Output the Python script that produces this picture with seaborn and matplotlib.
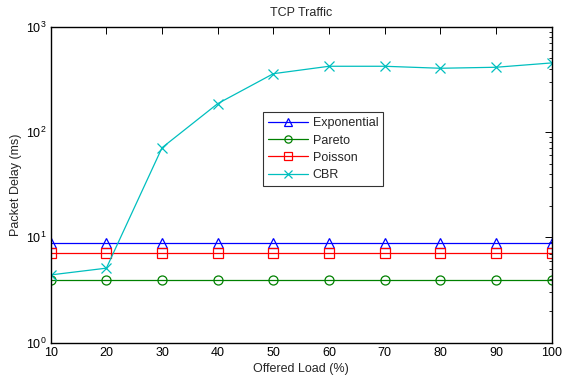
import matplotlib
matplotlib.use("Agg")
import matplotlib.pyplot as plt
import seaborn as sns
import pandas as pd
from matplotlib.ticker import LogLocator, FixedLocator

offered_load = [10, 20, 30, 40, 50, 60, 70, 80, 90, 100]
exponential = [8.8] * 10
pareto = [3.95] * 10
poisson = [7.1] * 10
cbr = [4.4, 5.1, 71, 186, 358, 421, 421, 403, 412, 453]

series_names = ["Exponential", "Pareto", "Poisson", "CBR"]
series_values = [exponential, pareto, poisson, cbr]
colors = ["#0000ff", "#008000", "#ff0000", "#00bfbf"]
markers = ["^", "o", "s", "x"]

sns.set_style("white")
plt.rcParams["font.family"] = ["Liberation Sans", "DejaVu Sans"]
plt.rcParams["mathtext.fontset"] = "custom"
plt.rcParams["mathtext.rm"] = "Liberation Sans"
plt.rcParams["mathtext.it"] = "Liberation Sans"

fig = plt.figure(figsize=(5.69, 3.77), dpi=100)
ax = fig.add_axes([0.0891, 0.0910, 0.8805, 0.8382])

for name, vals, c, m in zip(series_names, series_values, colors, markers):
    df = pd.DataFrame({"load": offered_load, "delay": vals})
    sns.lineplot(data=df, x="load", y="delay", ax=ax, color=c, marker=m,
                 markersize=6.5, markerfacecolor="none", markeredgecolor=c,
                 markeredgewidth=0.9, linewidth=0.9, label=name)

ax.set_yscale("log")
ax.set_xlim(10, 100)
ax.set_ylim(1, 1000)
ax.set_xticks(offered_load)
ax.xaxis.set_minor_locator(FixedLocator([]))
ax.yaxis.set_major_locator(LogLocator(base=10, numticks=10))
ax.yaxis.set_minor_locator(LogLocator(base=10, subs=range(2, 10), numticks=20))

ax.tick_params(axis="both", which="both", direction="in", top=True, right=True,
               labelsize=9, colors="black")
ax.tick_params(which="major", length=5, width=0.7, pad=3)
ax.tick_params(which="minor", length=2.5, width=0.6)
for s in ax.spines.values():
    s.set_linewidth(1.0)
    s.set_color("black")

ax.set_xlabel("Offered Load (%)", fontsize=9, labelpad=3)
ax.set_ylabel("Packet Delay (ms)", fontsize=9, labelpad=3)
ax.set_title("TCP Traffic", fontsize=9, pad=8)

leg = ax.legend(loc="upper left", bbox_to_anchor=(0.423, 0.729), fontsize=9,
                handlelength=3.2, frameon=True, fancybox=False, borderpad=0.4,
                labelspacing=0.42, handletextpad=0.4, borderaxespad=0,
                markerscale=0.8)
leg.get_frame().set_edgecolor("black")
leg.get_frame().set_linewidth(0.8)

fig.savefig("out.png", dpi=100)
